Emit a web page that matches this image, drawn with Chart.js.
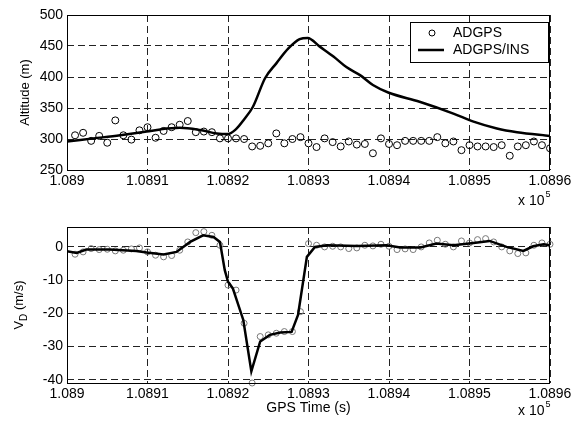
<!DOCTYPE html>
<html>
<head>
<meta charset="utf-8">
<script src="https://cdn.jsdelivr.net/npm/chart.js@4.4.1/dist/chart.umd.min.js"></script>
<style>
  body { margin: 0; background: #fff; }
  #wrap { position: relative; width: 580px; height: 428px; }
  canvas { position: absolute; left: 0; }
  #altChart { top: 0; }
  #vdChart { top: 214px; }
</style>
</head>
<body>
<div id="wrap">
  <canvas id="altChart" width="580" height="214"></canvas>
  <canvas id="vdChart" width="580" height="214"></canvas>
</div>
<script>
// GPS time in seconds, ticks shown in units of 1e5 s
const baseTime = 108900;
const xTicks = [108900, 108910, 108920, 108930, 108940, 108950, 108960];
const xTickLabels = ["1.089", "1.0891", "1.0892", "1.0893", "1.0894", "1.0895", "1.0896"];
const altTicks = [250, 300, 350, 400, 450, 500];
const vdTicks = [-40, -30, -20, -10, 0];

// ADGPS samples (seconds after baseTime)
const adgpsSec = [1, 2, 3, 4, 5, 6, 7, 8, 9, 10, 11, 12, 13, 14, 15, 16, 17, 18, 19, 20,
  21, 22, 23, 24, 25, 26, 27, 28, 29, 30, 31, 32, 33, 34, 35, 36, 37, 38, 39, 40,
  41, 42, 43, 44, 45, 46, 47, 48, 49, 50, 51, 52, 53, 54, 55, 56, 57, 58, 59, 60];
const adgpsAlt = [306, 310, 297, 305, 294, 330, 306, 299, 314, 319, 302, 313, 319, 323, 329, 311, 312, 311, 301, 301,
  301, 300, 288, 289, 293, 309, 293, 300, 303, 293, 287, 301, 295, 288, 296, 291, 292, 277, 301, 292,
  290, 297, 297, 297, 297, 303, 293, 296, 282, 290, 288, 288, 287, 290, 273, 288, 290, 296, 290, 285];
const adgpsVd = [-2.2, -1.5, -0.5, -0.8, -0.7, -1.2, -1.0, -0.6, -0.3, -1.5, -2.5, -3.0, -2.6, -1.0, 1.5, 4.3, 4.6, 3.5, 0.5, -11.5,
  -13, -23, -41, -27, -26.5, -26, -25.5, -25.5, -19.5, 1, 0.5, 0, 0.2, 0, -0.5, -0.3, 0.5, 0.3, 0.8, 0.2,
  -0.8, -0.6, -0.8, 0, 1.2, 2, 0.8, 0, 1.8, 1.2, 2.2, 2.5, 1.5, 0, -1.2, -2, -1.8, 0.5, 1.2, 0.8];

// ADGPS/INS solution
const insAltSec = [0, 3.3, 6.6, 9.9, 11.6, 14, 16.5, 18.6, 20, 21, 21.9, 23.1, 24.6, 26, 27.5, 28.9, 29.9,
  31.4, 33.1, 34.7, 36.4, 38, 39.9, 43.8, 48, 50.5, 53.4, 55.9, 60];
const insAlt = [296, 301, 306, 312, 315.5, 318, 314.5, 309, 308, 316, 330, 352, 398, 422, 446, 461, 463,
  449, 433, 416, 403, 387, 375, 360, 341, 328, 317, 311, 305];
const insVdSec = [0, 1.2, 2.4, 5.3, 8.6, 9.9, 12, 13.6, 15.3, 16.9, 18.2, 19, 19.6, 20, 20.6, 21.9, 22.9,
  24, 25.2, 26.5, 27.9, 28.7, 29.8, 30.8, 32.3, 36, 39.7, 41.4, 43.9, 45.9, 48, 50.5, 52.5, 54.6,
  56.7, 57.9, 59.2, 60];
const insVd = [-1.3, -1.8, -0.8, -0.8, -1.2, -1.7, -2.3, -1.5, 1.5, 3.5, 3.0, 1.5, -7, -10.5, -12.5, -22, -37.5,
  -28.5, -26.5, -25.8, -25.6, -20.5, -3, 0, 0.5, 0.3, 0.5, -0.2, -0.2, 1, 0.5, 1.2, 1.8, 0,
  -1.2, 0.2, 0.8, 0.5];

const FONT = "'Liberation Sans', Arial, Helvetica, sans-serif";

function toPoints(secs, vals) {
  return secs.map((s, i) => ({ x: baseTime + s, y: vals[i] }));
}

// frame, axis titles, "x 10^5" and the in-plot legend
const decor = {
  id: "decor",
  afterDraw(chart, args, opts) {
    const ctx = chart.ctx;
    const a = chart.chartArea;
    ctx.save();
    ctx.strokeStyle = "#000";
    ctx.lineWidth = 1;
    ctx.strokeRect(a.left + 0.5, a.top + 0.5, a.right - a.left - 1, a.bottom - a.top);

    ctx.fillStyle = "#000";
    // y title
    ctx.save();
    ctx.translate(opts.yTitleX, (a.top + a.bottom) / 2);
    ctx.rotate(-Math.PI / 2);
    ctx.textBaseline = "middle";
    ctx.font = "13px " + FONT;
    if (opts.sub) {
      const w1 = ctx.measureText(opts.yTitle).width;
      ctx.font = "10px " + FONT;
      const w2 = ctx.measureText(opts.sub).width;
      ctx.font = "13px " + FONT;
      const w3 = ctx.measureText(opts.yRest).width;
      let x = -(w1 + w2 + w3) / 2;
      ctx.textAlign = "left";
      ctx.fillText(opts.yTitle, x, 0);
      ctx.font = "10px " + FONT;
      ctx.fillText(opts.sub, x + w1, 5);
      ctx.font = "13px " + FONT;
      ctx.fillText(opts.yRest, x + w1 + w2, 0);
    } else {
      ctx.textAlign = "center";
      ctx.fillText(opts.yTitle, 0, 0);
    }
    ctx.restore();

    // x title
    if (opts.xTitle) {
      ctx.font = "14px " + FONT;
      ctx.textAlign = "center";
      ctx.textBaseline = "alphabetic";
      ctx.fillText(opts.xTitle, (a.left + a.right) / 2, opts.xTitleY);
    }

    // exponent note
    ctx.font = "14px " + FONT;
    ctx.textAlign = "left";
    ctx.textBaseline = "alphabetic";
    const ew = ctx.measureText("x 10").width;
    ctx.fillText("x 10", 518, opts.expY);
    ctx.font = "9px " + FONT;
    ctx.fillText("5", 518 + ew + 1, opts.expY - 8);

    // legend
    if (opts.legend) {
      const lx = 410, ly = 22, lw = 138, lh = 40;
      ctx.fillStyle = "#fff";
      ctx.fillRect(lx, ly, lw, lh);
      ctx.strokeStyle = "#000";
      ctx.strokeRect(lx + 0.5, ly + 0.5, lw, lh);
      const ds = chart.data.datasets;
      ctx.fillStyle = "#000";
      ctx.font = "14px " + FONT;
      ctx.textBaseline = "middle";
      ctx.beginPath();
      ctx.arc(432, 33, 3, 0, Math.PI * 2);
      ctx.lineWidth = 1;
      ctx.stroke();
      ctx.fillText(ds[1].label, 453, 33);
      ctx.beginPath();
      ctx.moveTo(418, 50);
      ctx.lineTo(444, 50);
      ctx.lineWidth = 2.5;
      ctx.stroke();
      ctx.fillText(ds[0].label, 453, 50);
    }
    ctx.restore();
  }
};

function axisOptions(yMin, yMax, yTicks, xHeight) {
  const tickFont = { family: FONT, size: 14 };
  return {
    x: {
      type: "linear",
      min: xTicks[0],
      max: xTicks[xTicks.length - 1],
      afterBuildTicks: s => { s.ticks = xTicks.map(v => ({ value: v })); },
      afterFit: s => { s.height = xHeight; },
      ticks: {
        callback: (v, i) => xTickLabels[i],
        font: tickFont, color: "#000", padding: 3,
        maxRotation: 0, autoSkip: false
      },
      grid: { color: "#222", lineWidth: 1, drawTicks: false },
      border: { display: false, dash: [7, 4] }
    },
    y: {
      type: "linear",
      min: yMin,
      max: yMax,
      afterBuildTicks: s => { s.ticks = yTicks.map(v => ({ value: v })); },
      afterFit: s => { s.width = 67; },
      ticks: { font: tickFont, color: "#000", padding: 4 },
      grid: { color: "#222", lineWidth: 1, drawTicks: false },
      border: { display: false, dash: [7, 4] }
    }
  };
}

new Chart(document.getElementById("altChart"), {
  type: "scatter",
  data: {
    datasets: [
      {
        label: "ADGPS/INS",
        data: toPoints(insAltSec, insAlt),
        showLine: true,
        borderColor: "#000",
        borderWidth: 2.5,
        pointRadius: 0,
        cubicInterpolationMode: "monotone",
        order: 0
      },
      {
        label: "ADGPS",
        data: toPoints(adgpsSec, adgpsAlt),
        showLine: false,
        pointStyle: "circle",
        pointRadius: 3.5,
        pointBorderWidth: 1,
        pointBorderColor: "#000",
        pointBackgroundColor: "rgba(0,0,0,0)",
        order: 1
      }
    ]
  },
  options: {
    responsive: false,
    animation: false,
    layout: { padding: { top: 15, right: 30, left: 0, bottom: 0 } },
    scales: axisOptions(250, 500, altTicks, 44),
    plugins: {
      legend: { display: false },
      tooltip: { enabled: false },
      decor: { yTitle: "Altitude (m)", yTitleX: 25, expY: 205, legend: true }
    }
  },
  plugins: [decor]
});

new Chart(document.getElementById("vdChart"), {
  type: "scatter",
  data: {
    datasets: [
      {
        label: "ADGPS/INS",
        data: toPoints(insVdSec, insVd),
        showLine: true,
        borderColor: "#000",
        borderWidth: 2.5,
        pointRadius: 0,
        tension: 0,
        order: 0
      },
      {
        label: "ADGPS",
        data: toPoints(adgpsSec, adgpsVd),
        showLine: false,
        pointStyle: "circle",
        pointRadius: 3,
        pointBorderWidth: 1,
        pointBorderColor: "#777",
        pointBackgroundColor: "rgba(0,0,0,0)",
        clip: 6,
        order: 1
      }
    ]
  },
  options: {
    responsive: false,
    animation: false,
    layout: { padding: { top: 13, right: 30, left: 0, bottom: 0 } },
    scales: axisOptions(-41, 6, vdTicks, 45),
    plugins: {
      legend: { display: false },
      tooltip: { enabled: false },
      decor: { yTitle: "V", sub: "D", yRest: " (m/s)", yTitleX: 19, xTitle: "GPS Time (s)", xTitleY: 198, expY: 201 }
    }
  },
  plugins: [decor]
});
</script>
</body>
</html>
